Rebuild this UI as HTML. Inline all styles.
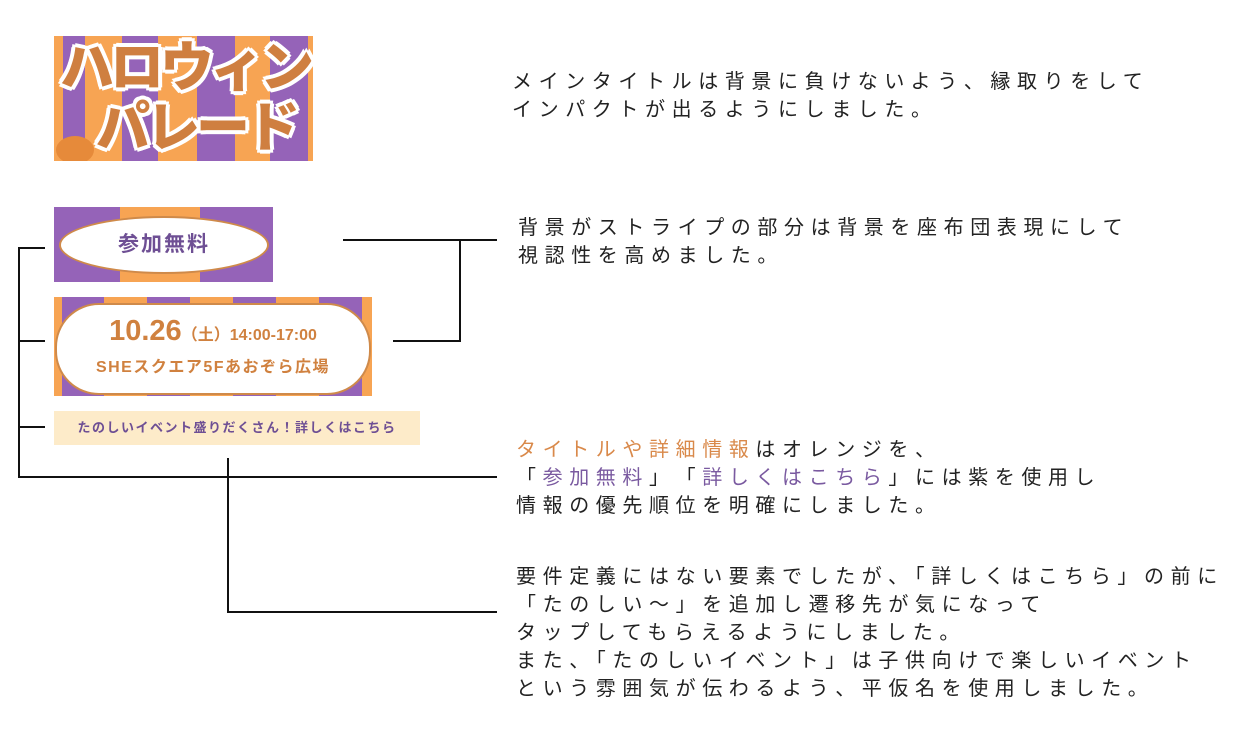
<!DOCTYPE html>
<html><head><meta charset="utf-8"><style>
body{margin:0;width:1250px;height:734px;background:#fff;position:relative;overflow:hidden;font-family:"Liberation Sans","Noto Sans CJK JP",sans-serif}
.a{position:absolute}
.t{position:absolute;font-size:20px;letter-spacing:6.6px;line-height:28px;color:#222;white-space:nowrap;font-feature-settings:"fwid" 1}
.l{position:absolute;background:#111}
.o{color:#d9894a}.p{color:#7a5aa0}
</style></head><body>
<!-- title banner -->
<div class="a" style="left:54px;top:36px;width:259px;height:125px;overflow:hidden;background:repeating-linear-gradient(90deg,#f7a453 0 9px,#9563b8 9px 31px,#f7a453 31px 68px,#9563b8 68px 104px,#f7a453 104px 143px,#9563b8 143px 181px,#f7a453 181px 216px,#9563b8 216px 254px,#f7a453 254px 259px)">
<div class="a" style="left:6px;top:2px;font-size:54px;font-weight:900;color:#cf7f40;letter-spacing:-4px;text-shadow:0 0 3px #fff,4px 0 0 #fff,-4px 0 0 #fff,0 4px 0 #fff,0 -4px 0 #fff,3px 3px 0 #fff,-3px -3px 0 #fff,3px -3px 0 #fff,-3px 3px 0 #fff;line-height:60px;white-space:nowrap">ハロウィン<br><span style="margin-left:36px">パレード</span></div>
<div class="a" style="left:2px;top:100px;width:38px;height:28px;border-radius:50%;background:#e68a3a"></div>
</div>
<!-- free banner -->
<div class="a" style="left:54px;top:207px;width:219px;height:75px;background:linear-gradient(90deg,#9563b8 0 66px,#f7a453 66px 146px,#9563b8 146px)">
<div class="a" style="left:5px;top:9px;width:206px;height:54px;border:2px solid #cf8a4a;border-radius:50%;background:#fff;text-align:center;line-height:54px;font-size:21px;font-weight:bold;color:#6e4f94;letter-spacing:2px">参加無料</div>
</div>
<!-- date banner -->
<div class="a" style="left:54px;top:297px;width:318px;height:99px;background:repeating-linear-gradient(90deg,#f7a453 0 8px,#9563b8 8px 50px,#f7a453 50px 93px,#9563b8 93px 136px,#f7a453 136px 179px,#9563b8 179px 222px,#f7a453 222px 265px,#9563b8 265px 308px,#f7a453 308px 318px)">
<div class="a" style="left:1px;top:6px;width:312px;height:88px;border:2px solid #cf8a4a;border-radius:44px;background:#fff"></div>
<div class="a" style="left:0;top:18px;width:318px;text-align:center;color:#d0813f;font-weight:bold;white-space:nowrap"><span style="font-size:29px">10.26</span><span style="font-size:16px">（土）14:00-17:00</span></div>
<div class="a" style="left:0;top:56px;width:318px;text-align:center;color:#d0813f;font-weight:bold;font-size:16px;letter-spacing:1.5px">SHEスクエア5Fあおぞら広場</div>
</div>
<!-- link bar -->
<div class="a" style="left:54px;top:411px;width:366px;height:34px;background:#fdebc9;color:#6e4f94;font-weight:bold;font-size:13px;line-height:34px;text-align:center;letter-spacing:1.5px">たのしいイベント盛りだくさん！詳しくはこちら</div>
<!-- connectors -->
<div class="l" style="left:18px;top:248px;width:2px;height:230px"></div>
<div class="l" style="left:18px;top:247px;width:27px;height:2px"></div>
<div class="l" style="left:18px;top:340px;width:27px;height:2px"></div>
<div class="l" style="left:18px;top:426px;width:27px;height:2px"></div>
<div class="l" style="left:18px;top:476px;width:479px;height:2px"></div>
<div class="l" style="left:343px;top:239px;width:154px;height:2px"></div>
<div class="l" style="left:459px;top:239px;width:2px;height:103px"></div>
<div class="l" style="left:393px;top:340px;width:68px;height:2px"></div>
<div class="l" style="left:227px;top:458px;width:2px;height:155px"></div>
<div class="l" style="left:227px;top:611px;width:270px;height:2px"></div>
<!-- texts -->
<div class="t" style="left:512px;top:68px">メインタイトルは背景に負けないよう、縁取りをして<br>インパクトが出るようにしました。</div>
<div class="t" style="left:518px;top:214px">背景がストライプの部分は背景を座布団表現にして<br>視認性を高めました。</div>
<div class="t" style="left:516px;top:436px"><span class="o">タイトルや詳細情報</span>はオレンジを、<br>「<span class="p">参加無料</span>」&#8203;「<span class="p">詳しくはこちら</span>」には紫を使用し<br>情報の優先順位を明確にしました。</div>
<div class="t" style="left:516px;top:563px">要件定義にはない要素でしたが、「詳しくはこちら」の前に<br>「たのしい〜」を追加し遷移先が気になって<br>タップしてもらえるようにしました。<br>また、「たのしいイベント」は子供向けで楽しいイベント<br>という雰囲気が伝わるよう、平仮名を使用しました。</div>
</body></html>
